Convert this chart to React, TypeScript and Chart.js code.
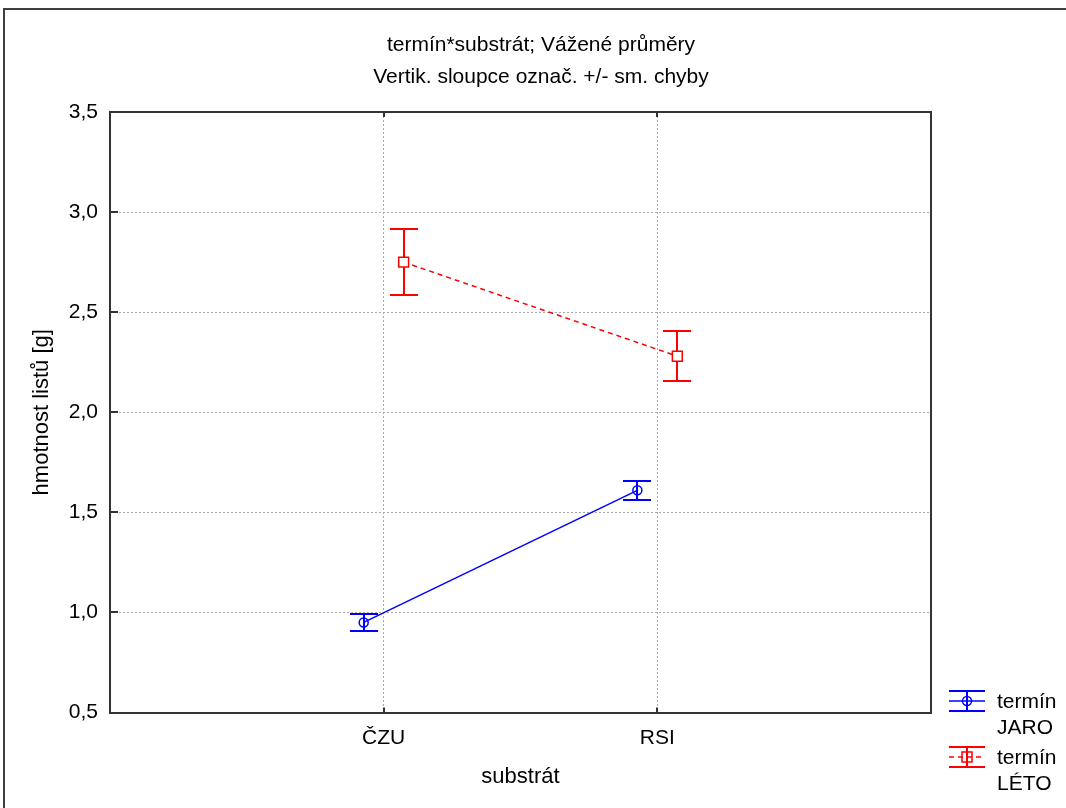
import React, { useEffect, useRef } from 'react';
import { Chart, registerables } from 'chart.js';

Chart.register(...registerables);

// ---- data ----
const titleLines = ['termín*substrát; Vážené průměry', 'Vertik. sloupce označ. +/- sm. chyby'];
const categories = ['ČZU', 'RSI'];
const yTickValues = [0.5, 1.0, 1.5, 2.0, 2.5, 3.0, 3.5];
const jaroMeans = [0.95, 1.61];
const jaroSE = [0.044, 0.048];
const letoMeans = [2.75, 2.28];
const letoSE = [0.165, 0.125];
const legendLabels = [['termín', 'JARO'], ['termín', 'LÉTO']];
const xTitle = 'substrát';
const yTitle = 'hmotnost listů [g]';

// ---- styles ----
const FONT = "'Liberation Sans', Arial, sans-serif";
const BLUE = '#0000ff';
const RED = '#ff0000';
const FRAME = '#333333';
const OFFSET = 0.073;
const CAP = 14;

const fmt = (v: number) => v.toFixed(1).replace('.', ',');

const outerFrame = {
  id: 'outerFrame',
  beforeDraw(chart: any) {
    const ctx = chart.ctx;
    ctx.save();
    ctx.strokeStyle = '#404040';
    ctx.lineWidth = 2;
    ctx.strokeRect(4, 9, chart.width + 20, chart.height + 20);
    ctx.restore();
  },
};

const errorBars = {
  id: 'errorBars',
  beforeDatasetsDraw(chart: any) {
    const ctx = chart.ctx;
    const ys = chart.scales.y;
    chart.data.datasets.forEach((ds: any, di: number) => {
      const meta = chart.getDatasetMeta(di);
      ctx.save();
      ctx.strokeStyle = ds.borderColor;
      ctx.lineWidth = 2;
      ctx.setLineDash([]);
      meta.data.forEach((pt: any, j: number) => {
        const v = ds.data[j].y;
        const e = ds.errors[j];
        const yt = Math.round(ys.getPixelForValue(v + e));
        const yb = Math.round(ys.getPixelForValue(v - e));
        const x = Math.round(pt.x);
        ctx.beginPath();
        ctx.moveTo(x, yt);
        ctx.lineTo(x, yb);
        ctx.moveTo(x - CAP, yt);
        ctx.lineTo(x + CAP, yt);
        ctx.moveTo(x - CAP, yb);
        ctx.lineTo(x + CAP, yb);
        ctx.stroke();
      });
      ctx.restore();
    });
  },
};

const inwardTicks = {
  id: 'inwardTicks',
  afterDraw(chart: any) {
    const ctx = chart.ctx;
    const ca = chart.chartArea;
    const xs = chart.scales.x;
    const ys = chart.scales.y;
    ctx.save();
    ctx.strokeStyle = FRAME;
    ctx.lineWidth = 2;
    ctx.beginPath();
    ys.ticks.forEach((t: any) => {
      const py = Math.round(ys.getPixelForValue(t.value));
      ctx.moveTo(ca.left, py);
      ctx.lineTo(ca.left + 8, py);
    });
    xs.ticks.forEach((t: any) => {
      const px = Math.round(xs.getPixelForValue(t.value));
      ctx.moveTo(px, ca.bottom);
      ctx.lineTo(px, ca.bottom - 5);
      ctx.moveTo(px, ca.top);
      ctx.lineTo(px, ca.top + 5);
    });
    ctx.stroke();
    ctx.restore();
  },
};

const sideLegend = {
  id: 'sideLegend',
  afterDraw(chart: any) {
    const ctx = chart.ctx;
    const ca = chart.chartArea;
    const x0 = ca.right + 18;
    const w = 36;
    const cx = x0 + w / 2;
    const rows = [ca.bottom - 12, ca.bottom + 44];
    chart.data.datasets.forEach((ds: any, i: number) => {
      const cy = Math.round(rows[i]);
      ctx.save();
      ctx.strokeStyle = ds.borderColor;
      ctx.lineWidth = 2;
      ctx.beginPath();
      ctx.moveTo(x0, cy - 10);
      ctx.lineTo(x0 + w, cy - 10);
      ctx.moveTo(x0, cy + 10);
      ctx.lineTo(x0 + w, cy + 10);
      ctx.moveTo(cx, cy - 10);
      ctx.lineTo(cx, cy + 10);
      ctx.stroke();
      ctx.lineWidth = 1.5;
      ctx.setLineDash(ds.borderDash || []);
      ctx.beginPath();
      ctx.moveTo(x0, cy);
      ctx.lineTo(x0 + w, cy);
      ctx.stroke();
      ctx.setLineDash([]);
      ctx.fillStyle = '#ffffff';
      ctx.beginPath();
      if (ds.pointStyle === 'rect') {
        ctx.rect(cx - 5, cy - 5, 10, 10);
      } else {
        ctx.arc(cx, cy, 4.5, 0, Math.PI * 2);
      }
      ctx.stroke();
      ctx.fillStyle = '#000';
      ctx.font = `21px ${FONT}`;
      ctx.textAlign = 'left';
      ctx.textBaseline = 'middle';
      legendLabels[i].forEach((line, k) => {
        ctx.fillText(line, ca.right + 66, cy + 1 + k * 26);
      });
      ctx.restore();
    });
  },
};

export default function App() {
  const ref = useRef<HTMLCanvasElement>(null);
  useEffect(() => {
    document.body.style.margin = '0';
    Chart.defaults.font.family = FONT;
    Chart.defaults.color = '#000';
    const chart = new Chart(ref.current as HTMLCanvasElement, {
      type: 'line',
      data: {
        datasets: [
          {
            label: legendLabels[0].join(' '),
            data: categories.map((_, i) => ({ x: i + 1 - OFFSET, y: jaroMeans[i] })),
            errors: jaroSE,
            borderColor: BLUE,
            borderWidth: 1.5,
            pointStyle: 'circle',
            pointRadius: 4.5,
            pointBorderWidth: 1.5,
            pointBorderColor: BLUE,
            pointBackgroundColor: 'rgba(0,0,0,0)',
            tension: 0,
          } as any,
          {
            label: legendLabels[1].join(' '),
            data: categories.map((_, i) => ({ x: i + 1 + OFFSET, y: letoMeans[i] })),
            errors: letoSE,
            borderColor: RED,
            borderWidth: 1.5,
            borderDash: [5, 4],
            pointStyle: 'rect',
            pointRadius: 7,
            pointBorderWidth: 1.5,
            pointBorderColor: RED,
            pointBackgroundColor: '#ffffff',
            tension: 0,
          } as any,
        ],
      },
      options: {
        responsive: false,
        animation: false,
        devicePixelRatio: 1,
        layout: { padding: { left: 16, right: 0, top: 0, bottom: 0 } },
        plugins: {
          legend: { display: false },
          tooltip: { enabled: false },
          title: {
            display: true,
            text: titleLines,
            color: '#000',
            font: { size: 21, weight: 'normal', lineHeight: '32px' } as any,
            padding: { top: 29, bottom: 19 },
          },
        },
        scales: {
          x: {
            type: 'linear',
            position: 'bottom',
            min: 0,
            max: 3,
            afterBuildTicks: (axis: any) => {
              axis.ticks = categories.map((_, i) => ({ value: i + 1 }));
            },
            afterFit: (s: any) => {
              s.height = 95.5;
            },
            ticks: {
              callback: (v: any) => categories[Math.round(v) - 1] ?? '',
              font: { size: 21 },
              color: '#000',
              padding: 13,
              autoSkip: false,
              maxRotation: 0,
            },
            grid: { color: '#a8a8a8', lineWidth: 1, drawTicks: false },
            border: { display: true, color: FRAME, width: 2, dash: [2, 2] },
            title: {
              display: true,
              text: xTitle,
              color: '#000',
              font: { size: 22 },
              padding: { top: 0, bottom: 17.8 },
            },
          },
          x2: {
            type: 'linear',
            position: 'top',
            min: 0,
            max: 3,
            ticks: { display: false },
            grid: { display: false, drawTicks: false },
            border: { display: true, color: FRAME, width: 2 },
            afterFit: (s: any) => {
              s.height = 0;
            },
          },
          y: {
            type: 'linear',
            position: 'left',
            min: 0.5,
            max: 3.5,
            afterBuildTicks: (axis: any) => {
              axis.ticks = yTickValues.map((v) => ({ value: v }));
            },
            afterFit: (s: any) => {
              s.width = 94;
            },
            ticks: {
              callback: (v: any) => fmt(Number(v)),
              font: { size: 21 },
              color: '#000',
              padding: 12,
            },
            grid: { color: '#a8a8a8', lineWidth: 1, drawTicks: false },
            border: { display: true, color: FRAME, width: 2, dash: [2, 2] },
            title: {
              display: true,
              text: yTitle,
              color: '#000',
              font: { size: 22 },
              padding: { top: 12.8, bottom: 0 },
            },
          },
          y2: {
            type: 'linear',
            position: 'right',
            min: 0.5,
            max: 3.5,
            ticks: { display: false },
            grid: { display: false, drawTicks: false },
            border: { display: true, color: FRAME, width: 2 },
            afterFit: (s: any) => {
              s.width = 135;
            },
          },
        },
      } as any,
      plugins: [outerFrame, errorBars, inwardTicks, sideLegend],
    });
    return () => chart.destroy();
  }, []);
  return (
    <div style={{ width: 1066, height: 808, position: 'relative', background: '#fff' }}>
      <canvas ref={ref} width={1066} height={808} style={{ display: 'block' }} />
    </div>
  );
}
